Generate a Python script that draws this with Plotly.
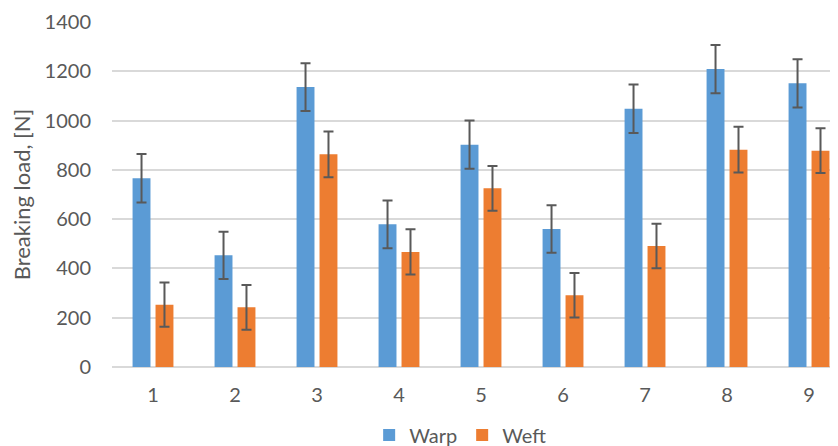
import plotly.graph_objects as go

samples = [1, 2, 3, 4, 5, 6, 7, 8, 9]
warp = [766, 453, 1136, 579, 902, 560, 1048, 1209, 1151]
weft = [253, 242, 863, 467, 725, 291, 491, 882, 878]
warp_err = [98, 96, 97, 97, 98, 96, 98, 98, 98]
weft_err = [90, 91, 93, 92, 91, 90, 90, 93, 91]
y_ticks = [0, 200, 400, 600, 800, 1000, 1200, 1400]

FONT = "Lato, 'Open Sans', sans-serif"
GRAY = "#595959"
FS = 20

fig = go.Figure()
fig.add_trace(go.Bar(
    x=samples, y=warp, name="Warp", marker_color="#5B9BD5",
    marker_line_width=0,
    error_y=dict(type="data", array=warp_err, color=GRAY, thickness=2, width=5),
))
fig.add_trace(go.Bar(
    x=samples, y=weft, name="Weft", marker_color="#ED7D31",
    marker_line_width=0,
    error_y=dict(type="data", array=weft_err, color=GRAY, thickness=2, width=5),
))

fig.update_layout(
    width=838, height=446,
    margin=dict(l=104, r=0, t=14, b=87, autoexpand=False),
    paper_bgcolor="white", plot_bgcolor="white",
    barmode="group", bargap=0.44, bargroupgap=0.22,
    font=dict(family=FONT, size=FS, color=GRAY),
    showlegend=True,
    legend=dict(orientation="h", x=0.475, xanchor="center", y=-0.197, yanchor="middle",
                font=dict(size=FS, color=GRAY), traceorder="normal", itemwidth=30),
    xaxis=dict(
        type="linear", range=[0.5, 9.451], tickvals=samples,
        ticktext=[str(s) for s in samples], automargin=False,
        showgrid=False, zeroline=False, showline=False, ticks="",
        ticklabelstandoff=14,
        tickfont=dict(size=FS, color=GRAY),
    ),
    yaxis=dict(
        range=[0, 1400], tickvals=y_ticks, showgrid=True, gridcolor="#D9D9D9",
        gridwidth=1.5, zeroline=True, zerolinecolor="#D9D9D9", zerolinewidth=1.5,
        showline=False, ticks="", ticklabelstandoff=20, automargin=False,
        tickfont=dict(size=FS, color=GRAY),
        title=dict(text="Breaking load, [N]", font=dict(size=22, color=GRAY), standoff=11),
    ),
)

fig.write_html("out.html")
